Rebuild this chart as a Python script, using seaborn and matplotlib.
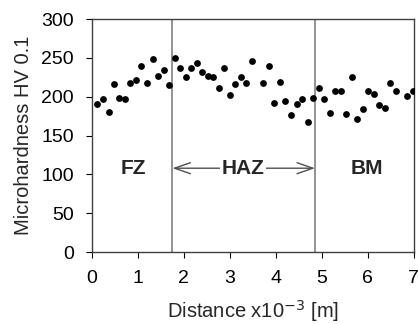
import matplotlib
matplotlib.use("Agg")
import matplotlib.pyplot as plt
import seaborn as sns
import pandas as pd

distance = [0.12, 0.23, 0.36, 0.47, 0.59, 0.72, 0.83, 0.96, 1.07, 1.20, 1.32, 1.43, 1.56, 1.67,
            1.80, 1.92, 2.04, 2.16, 2.28, 2.40, 2.52, 2.64, 2.76, 2.88, 3.00, 3.12, 3.24, 3.36,
            3.49, 3.72, 3.84, 3.96, 4.08, 4.20, 4.33, 4.45, 4.57, 4.69, 4.81, 4.93, 5.05, 5.17,
            5.29, 5.41, 5.53, 5.65, 5.77, 5.89, 6.01, 6.13, 6.25, 6.37, 6.49, 6.62, 6.85, 6.98]
hardness = [191, 197, 180, 217, 199, 197, 218, 221, 240, 218, 248, 227, 235, 215,
            250, 237, 225, 237, 243, 232, 227, 226, 211, 237, 202, 216, 225, 218,
            246, 218, 239, 192, 219, 195, 176, 191, 197, 168, 198, 211, 197, 179,
            207, 207, 178, 225, 172, 184, 207, 204, 190, 186, 218, 207, 201, 207]

zone_bounds = [1.75, 4.85]
zone_labels = ["FZ", "HAZ", "BM"]
zone_label_x = [0.9, 3.28, 5.97]
label_y = 108

df = pd.DataFrame({"Distance": distance, "Hardness": hardness})

sns.set_style("white")
plt.rcParams['font.family'] = ['Liberation Sans', 'DejaVu Sans']

fig = plt.figure(figsize=(4.18, 3.24), dpi=100)
ax = fig.add_axes([0.220, 0.222, 0.770, 0.719])

sns.scatterplot(data=df, x="Distance", y="Hardness", ax=ax, color="black",
                s=24, edgecolor="black", linewidth=0, zorder=3)

for b in zone_bounds:
    ax.axvline(b, color="#808080", lw=1.2, zorder=1)

ax.annotate("", xy=(zone_bounds[0], label_y), xytext=(zone_bounds[1], label_y),
            arrowprops=dict(arrowstyle="<->,head_length=0.95,head_width=0.33",
                            color="#505050", lw=1.0, mutation_scale=12,
                            shrinkA=0, shrinkB=0))
for lx, lab in zip(zone_label_x, zone_labels):
    ax.text(lx, label_y, lab, ha="center", va="center", fontsize=15, fontweight="bold",
            bbox=dict(facecolor="white", edgecolor="none", pad=1) if lab == "HAZ" else None,
            zorder=4)

ax.set_xlim(0, 7)
ax.set_ylim(0, 300)
ax.set_xticks(range(0, 8))
ax.set_yticks(range(0, 301, 50))
ax.set_xlabel("Distance x10$^{-3}$ [m]", fontsize=14.5, labelpad=8)
ax.set_ylabel("Microhardness HV 0.1", fontsize=14.5, labelpad=6)
ax.tick_params(axis="both", labelsize=14, direction="out", length=4, width=0.8,
               bottom=True, left=True, colors="black", pad=9)
for sp in ax.spines.values():
    sp.set_color("#404040")
    sp.set_linewidth(1.0)

fig.savefig("out.png", dpi=100)
